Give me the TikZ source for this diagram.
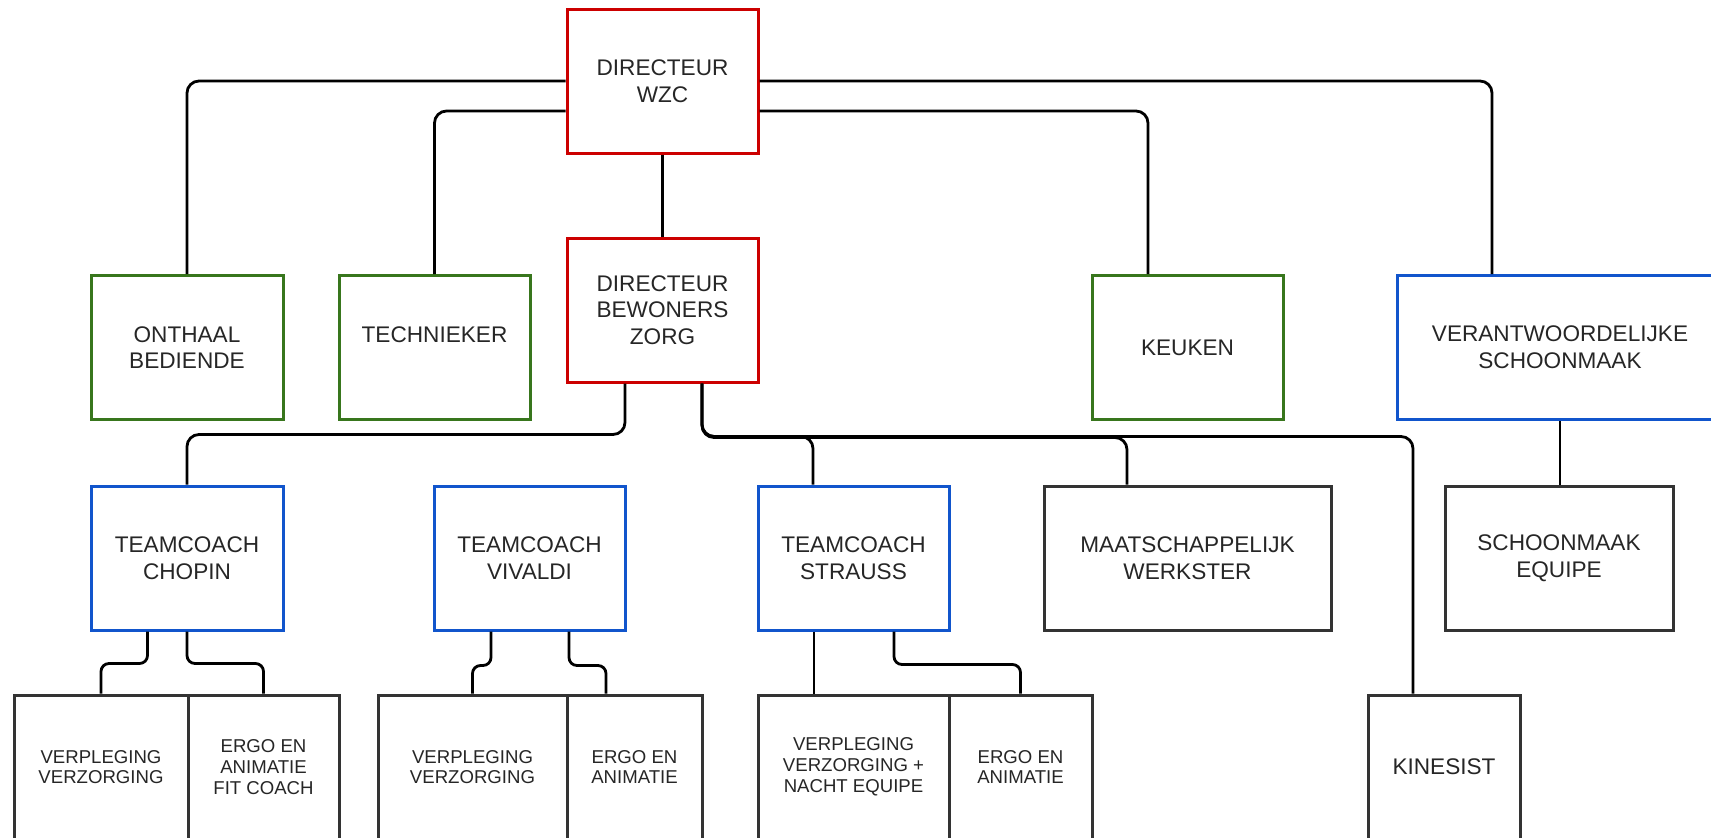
\documentclass[tikz,border=0pt]{standalone}
\usepackage{fontspec}
\setmainfont{Liberation Sans}
\definecolor{wzcred}{HTML}{CC0000}
\definecolor{wzcgreen}{HTML}{38761D}
\definecolor{wzcblue}{HTML}{1155CC}
\definecolor{wzcgrey}{HTML}{333333}

\begin{document}
\begin{tikzpicture}[x=0.5pt, y=-0.5pt,
  box/.style={draw, line width=1.5pt, fill=white, align=center, inner sep=1pt, text=black!85, minimum height=72pt, font=\fontsize{11.3}{13.3}\selectfont},
  head/.style={box, draw=wzcred},
  staff/.style={box, draw=wzcgreen},
  coach/.style={box, draw=wzcblue},
  team/.style={box, draw=wzcgrey},
  teamsmall/.style={team, font=\fontsize{9.3}{10.4}\selectfont},
  link/.style={line width=1.4pt, rounded corners=6pt},
  tightlink/.style={line width=1.4pt, rounded corners=4pt}]
\useasboundingbox (0,0) rectangle (1711,837);

\node[head, minimum width=95.5pt] (wzc) at (662.5,81) {DIRECTEUR\\WZC};
\node[head, minimum width=95.5pt] (dbz) at (662.5,310) {DIRECTEUR\\BEWONERS\\ZORG};
\node[staff, minimum width=96pt] (onthaal) at (187,347.5) {ONTHAAL\\BEDIENDE};
\node[staff, minimum width=95.5pt] (tech) at (434.5,347.5) {TECHNIEKER\\\mbox{}};
\node[staff, minimum width=95.5pt] (keuken) at (1187.5,347.5) {KEUKEN};
\node[coach, minimum width=163pt] (verant) at (1560,347.5) {VERANTWOORDELIJKE\\SCHOONMAAK};

\node[coach, minimum width=96pt] (chopin) at (187,558) {TEAMCOACH\\CHOPIN};
\node[coach, minimum width=95.5pt] (vivaldi) at (529.5,558) {TEAMCOACH\\VIVALDI};
\node[coach, minimum width=95.5pt] (strauss) at (853.5,558) {TEAMCOACH\\STRAUSS};
\node[team, minimum width=143.5pt] (maat) at (1187.5,558) {MAATSCHAPPELIJK\\WERKSTER};
\node[team, minimum width=114pt] (equipe) at (1559,558) {SCHOONMAAK\\EQUIPE};

\node[teamsmall, minimum width=87pt] (verpC) at (101,767) {VERPLEGING\\VERZORGING};
\node[teamsmall, minimum width=75.5pt] (ergoC) at (263.5,767) {ERGO EN\\ANIMATIE\\FIT COACH};
\node[teamsmall, minimum width=94.5pt] (verpV) at (472.5,767) {VERPLEGING\\VERZORGING};
\node[teamsmall, minimum width=67.5pt] (ergoV) at (634.5,767) {ERGO EN\\ANIMATIE};
\node[teamsmall, minimum width=95.5pt] (verpS) at (853.5,767) {VERPLEGING\\VERZORGING +\\NACHT EQUIPE};
\node[teamsmall, minimum width=71.5pt] (ergoS) at (1020.5,767) {ERGO EN\\ANIMATIE};
\node[team, minimum width=76pt] (kine) at (1444,767) {KINESIST};

\draw[link] (wzc.west) -| (onthaal.north);
\draw[link] ([yshift=-15pt]wzc.west) -| (tech.north);
\draw[link] (wzc.south) -- (dbz.north);
\draw[link] (wzc.east) -| ([xshift=-34pt]verant.north);
\draw[link] ([yshift=-15pt]wzc.east) -| ([xshift=-19.75pt]keuken.north);

\draw[link] ([xshift=-18.75pt]dbz.south) -- ++(0,51) -| (chopin.north);
\draw[link] ([xshift=19.75pt]dbz.south) -- ++(0,53) -| ([xshift=-20.25pt]strauss.north);
\draw[link] ([xshift=19.75pt]dbz.south) -- ++(0,54) -| ([xshift=-30.25pt]maat.north);
\draw[link] ([xshift=19.75pt]dbz.south) -- ++(0,53) -| ([xshift=-15.5pt]kine.north);
\draw[link] (verant.south) -- (verant.south |- equipe.north);

\draw[tightlink] ([xshift=-19.75pt]chopin.south) -- ++(0,32) -| (verpC.north);
\draw[tightlink] (chopin.south) -- ++(0,32) -| (ergoC.north);
\draw[tightlink] ([xshift=-19.25pt]vivaldi.south) -- ++(0,34) -| (verpV.north);
\draw[tightlink] ([xshift=19.75pt]vivaldi.south) -- ++(0,34) -| ([xshift=-14.25pt]ergoV.north);
\draw[tightlink] ([xshift=-19.75pt]strauss.south) -- ([xshift=-19.75pt]verpS.north);
\draw[tightlink] ([xshift=20.25pt]strauss.south) -- ++(0,33) -| (ergoS.north);
\end{tikzpicture}
\end{document}
